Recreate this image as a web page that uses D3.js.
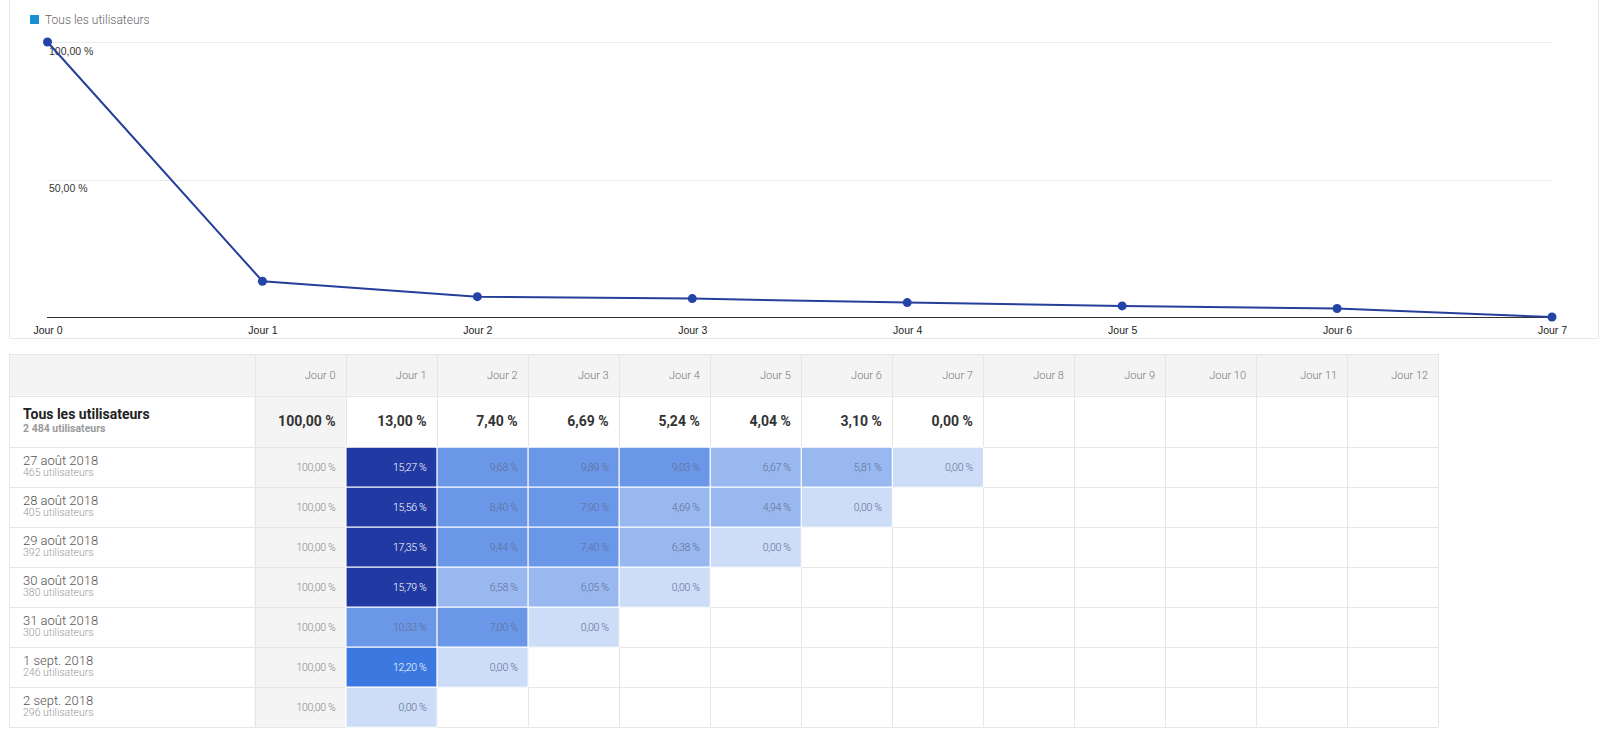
<!DOCTYPE html>
<html>
<head>
<meta charset="utf-8">
<script src="https://cdn.jsdelivr.net/npm/d3@7"></script>
<style>
  html, body { margin: 0; padding: 0; background: #fff; }
  svg { display: block; }
</style>
</head>
<body>
<svg id="c" width="1612" height="734"></svg>
<script>
// ---------- DATA ----------
const days = ["Jour 0","Jour 1","Jour 2","Jour 3","Jour 4","Jour 5","Jour 6","Jour 7"];
const allUsers = [100, 13.00, 7.40, 6.69, 5.24, 4.04, 3.10, 0.00];
const yTicks = [50, 100];
const tableDays = ["Jour 0","Jour 1","Jour 2","Jour 3","Jour 4","Jour 5","Jour 6","Jour 7","Jour 8","Jour 9","Jour 10","Jour 11","Jour 12"];
const totalLabel = "Tous les utilisateurs";
const totalUsers = "2 484 utilisateurs";
const cohorts = ["27 août 2018","28 août 2018","29 août 2018","30 août 2018","31 août 2018","1 sept. 2018","2 sept. 2018"];
const cohortUsers = [465, 405, 392, 380, 300, 246, 296];
const row0 = [100, 15.27, 9.68, 9.89, 9.03, 6.67, 5.81, 0.00];
const row1 = [100, 15.56, 8.40, 7.90, 4.69, 4.94, 0.00];
const row2 = [100, 17.35, 9.44, 7.40, 6.38, 0.00];
const row3 = [100, 15.79, 6.58, 6.05, 0.00];
const row4 = [100, 10.33, 7.00, 0.00];
const row5 = [100, 12.20, 0.00];
const row6 = [100, 0.00];
const rows = [row0, row1, row2, row3, row4, row5, row6];

const fmt = v => v.toFixed(2).replace(".", ",") + " %";
const svg = d3.select("#c");
const chartFont = "'Liberation Sans', Arial, sans-serif";
const tableFont = "Roboto, 'Noto Sans', sans-serif";

// ---------- LINE CHART ----------
// frame
svg.append("path").attr("d", "M9.5,0V338.5H1598.5V0")
  .attr("fill", "none").attr("stroke", "#e6e6e6");

// legend
svg.append("rect").attr("x", 30).attr("y", 15).attr("width", 9).attr("height", 9).attr("fill", "#1a8fcf");
svg.append("text").attr("x", 45).attr("y", 23.5).text(totalLabel)
  .attr("font-family", tableFont).attr("font-size", 12).attr("font-weight", 300).attr("fill", "#666");

const x = d3.scalePoint().domain(days).range([47.5, 1552]);
const y = d3.scaleLinear().domain([0, 100]).range([317, 42]);

svg.append("g").selectAll("line").data(yTicks).join("line")
  .attr("x1", 47).attr("x2", 1552)
  .attr("y1", d => Math.round(y(d)) + 0.5).attr("y2", d => Math.round(y(d)) + 0.5)
  .attr("stroke", "#ebebeb");

svg.append("g").selectAll("text").data(yTicks).join("text")
  .attr("x", 49).attr("y", d => y(d) + 12.5)
  .text(d => fmt(d))
  .attr("font-family", chartFont).attr("font-size", 10.5).attr("fill", "#333");

const xAxis = svg.append("g").attr("transform", "translate(0,317)")
  .call(d3.axisBottom(x).tickSize(0).tickPadding(10));
xAxis.select(".domain").attr("d", "M47,0.5H1552").attr("stroke", "#333");
xAxis.selectAll("text").attr("font-family", chartFont).attr("font-size", 10.5).attr("fill", "#222");

const line = d3.line().x((d, i) => x(days[i])).y(d => y(d));
svg.append("path").datum(allUsers).attr("d", line)
  .attr("fill", "none").attr("stroke", "#263f9b").attr("stroke-width", 2);
svg.append("g").selectAll("circle").data(allUsers).join("circle")
  .attr("cx", (d, i) => x(days[i])).attr("cy", d => y(d)).attr("r", 4.5)
  .attr("fill", "#2443a8");

// ---------- COHORT TABLE ----------
const tLeft = 9, firstColRight = 254.5, colW = 91.05;
const headerTop = 354, headerH = 41.7, totalH = 51, rowH = 40;
const colX = i => firstColRight + i * colW;
const tRight = colX(tableDays.length);
const totalTop = headerTop + headerH;
const dataTop = totalTop + totalH;
const rowY = r => dataTop + r * rowH;
const tBottom = rowY(rows.length);

const color = d3.scaleThreshold().domain([0.005, 7, 11, 14])
  .range(["#cddcf7", "#99b8ef", "#6b97e8", "#3b78e0", "#2139a3"]);

const T = svg.append("g");
// header background
T.append("rect").attr("x", tLeft).attr("y", headerTop).attr("width", tRight - tLeft).attr("height", headerH).attr("fill", "#f4f4f4");
// jour 0 column background
T.append("rect").attr("x", colX(0)).attr("y", totalTop).attr("width", colW).attr("height", tBottom - totalTop).attr("fill", "#f4f4f4");

// grid lines
const hLines = [headerTop, totalTop, dataTop].concat(rows.map((r, i) => rowY(i + 1)));
T.append("g").selectAll("line").data(hLines).join("line")
  .attr("x1", tLeft).attr("x2", tRight)
  .attr("y1", d => Math.round(d) + 0.5).attr("y2", d => Math.round(d) + 0.5)
  .attr("stroke", "#e6e6e6");
const vLines = [tLeft].concat(d3.range(tableDays.length + 1).map(colX));
T.append("g").selectAll("line").data(vLines).join("line")
  .attr("x1", d => Math.round(d) + 0.5).attr("x2", d => Math.round(d) + 0.5)
  .attr("y1", (d, i) => i === 0 ? totalTop : headerTop).attr("y2", tBottom)
  .attr("stroke", "#e6e6e6");
T.append("line").attr("x1", tLeft + 0.5).attr("x2", tLeft + 0.5).attr("y1", headerTop).attr("y2", tBottom).attr("stroke", "#e6e6e6");

// header texts
T.append("g").selectAll("text").data(tableDays).join("text")
  .attr("x", (d, i) => colX(i + 1) - 10).attr("y", headerTop + 24.5)
  .attr("text-anchor", "end").text(d => d)
  .attr("font-family", tableFont).attr("font-size", 11).attr("font-weight", 300).attr("fill", "#777");

// total row
T.append("text").attr("x", 23).attr("y", totalTop + 23).text(totalLabel)
  .attr("font-family", tableFont).attr("font-size", 14).attr("font-weight", 700).attr("fill", "#222");
T.append("text").attr("x", 23).attr("y", totalTop + 36).text(totalUsers)
  .attr("font-family", tableFont).attr("font-size", 10.5).attr("font-weight", 700).attr("fill", "#999");
T.append("g").selectAll("text").data(allUsers).join("text")
  .attr("x", (d, i) => colX(i + 1) - 10).attr("y", totalTop + 30)
  .attr("text-anchor", "end").text(d => fmt(d))
  .attr("font-family", tableFont).attr("font-size", 14).attr("font-weight", 700).attr("fill", "#333");

// data rows
rows.forEach((vals, r) => {
  const top = rowY(r);
  T.append("text").attr("x", 23).attr("y", top + 18).text(cohorts[r])
    .attr("font-family", tableFont).attr("font-size", 13).attr("font-weight", 300).attr("fill", "#555");
  T.append("text").attr("x", 23).attr("y", top + 29.5).text(cohortUsers[r] + " utilisateurs")
    .attr("font-family", tableFont).attr("font-size", 10.5).attr("font-weight", 300).attr("fill", "#999");
  const g = T.append("g");
  g.selectAll("rect").data(vals.slice(1)).join("rect")
    .attr("x", (d, i) => colX(i + 1) + 0.5).attr("y", top + 0.5)
    .attr("width", colW).attr("height", rowH)
    .attr("fill", d => color(d)).attr("stroke", "#fff").attr("stroke-width", 1);
  g.selectAll("text").data(vals).join("text")
    .attr("x", (d, i) => colX(i + 1) - 10).attr("y", top + 24)
    .attr("text-anchor", "end").text(d => fmt(d))
    .attr("font-family", tableFont).attr("font-size", 10.5).attr("font-weight", 300)
    .attr("letter-spacing", -0.3)
    .attr("fill", (d, i) => i === 0 ? "#888" : (d >= 11 ? "#fff" : "#5f6f94"));
});
</script>
</body>
</html>
